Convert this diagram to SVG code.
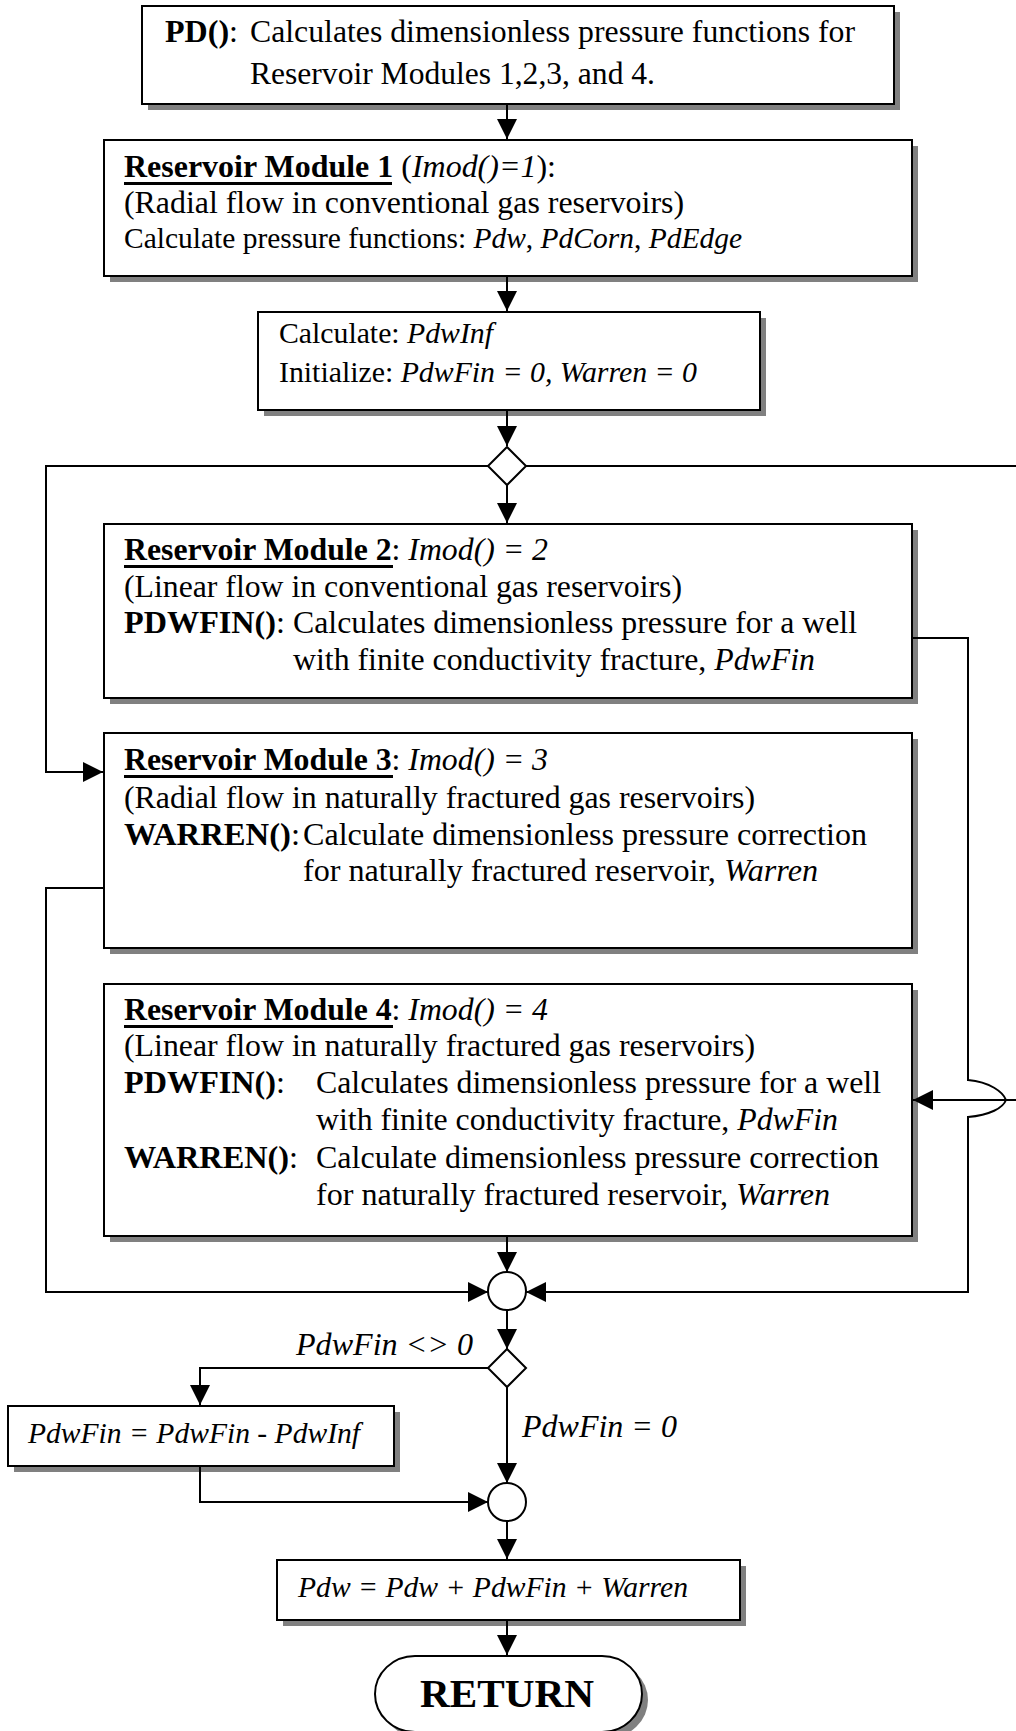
<svg xmlns="http://www.w3.org/2000/svg" width="1016" height="1731" viewBox="0 0 1016 1731">
<defs>
<style>
.box{fill:#fff;stroke:#000;stroke-width:2}
.sh{fill:#808080}
.t{font-family:"Liberation Serif","Times New Roman",serif;font-size:31.5px;fill:#000}
.s{font-size:29.5px}
.b{font-weight:bold}
.i{font-style:italic}
.ul{fill:#000}
.ln{fill:none;stroke:#000;stroke-width:2;marker-end:url(#ah)}
.nd{fill:#fff;stroke:#000;stroke-width:2}
</style>
<marker id="ah" markerUnits="userSpaceOnUse" markerWidth="20" markerHeight="20" refX="20" refY="10" orient="auto">
<path d="M0,0 L20,10 L0,20 Z" fill="#000"/>
</marker>
</defs>
<rect width="1016" height="1731" fill="#fff"/>

<g id="pd">
<rect class="sh" x="148" y="12" width="752" height="98"/>
<rect class="box" x="142" y="6" width="752" height="98"/>
<text class="t" x="165" y="42" textLength="73" lengthAdjust="spacingAndGlyphs"><tspan class="b">PD()</tspan>:</text>
<text class="t" x="250" y="42" textLength="605" lengthAdjust="spacingAndGlyphs">Calculates dimensionless pressure functions for</text>
<text class="t" x="250" y="84" textLength="405" lengthAdjust="spacingAndGlyphs">Reservoir Modules 1,2,3, and 4.</text>
</g>

<g id="module1">
<rect class="sh" x="110" y="146" width="808" height="136"/>
<rect class="box" x="104" y="140" width="808" height="136"/>
<text class="t" x="124" y="177" textLength="432" lengthAdjust="spacingAndGlyphs"><tspan class="b">Reservoir Module 1</tspan> (<tspan class="i">Imod()=1</tspan>):</text>
<rect class="ul" x="124" y="182" width="268" height="3"/>
<text class="t" x="124" y="213" textLength="560" lengthAdjust="spacingAndGlyphs">(Radial flow in conventional gas reservoirs)</text>
<text class="t s" x="124" y="248" textLength="618" lengthAdjust="spacingAndGlyphs">Calculate pressure functions: <tspan class="i">Pdw</tspan>, <tspan class="i">PdCorn</tspan>, <tspan class="i">PdEdge</tspan></text>
</g>

<g id="calc">
<rect class="sh" x="264" y="318" width="502" height="98"/>
<rect class="box" x="258" y="312" width="502" height="98"/>
<text class="t s" x="279" y="343" textLength="214" lengthAdjust="spacingAndGlyphs">Calculate: <tspan class="i">PdwInf</tspan></text>
<text class="t s" x="279" y="382" textLength="418" lengthAdjust="spacingAndGlyphs">Initialize: <tspan class="i">PdwFin = 0, Warren = 0</tspan></text>
</g>

<g id="decision1">
<polygon class="nd" points="507,447 526,466 507,485 488,466"/>
</g>

<g id="module2">
<rect class="sh" x="110" y="530" width="808" height="174"/>
<rect class="box" x="104" y="524" width="808" height="174"/>
<text class="t" x="124" y="560" textLength="424" lengthAdjust="spacingAndGlyphs"><tspan class="b">Reservoir Module 2</tspan>: <tspan class="i">Imod() = 2</tspan></text>
<rect class="ul" x="124" y="565" width="269" height="3"/>
<text class="t" x="124" y="597" textLength="558" lengthAdjust="spacingAndGlyphs">(Linear flow in conventional gas reservoirs)</text>
<text class="t" x="124" y="633" textLength="161" lengthAdjust="spacingAndGlyphs"><tspan class="b">PDWFIN()</tspan>:</text>
<text class="t" x="293" y="633" textLength="564" lengthAdjust="spacingAndGlyphs">Calculates dimensionless pressure for a well</text>
<text class="t" x="293" y="670" textLength="522" lengthAdjust="spacingAndGlyphs">with finite conductivity fracture, <tspan class="i">PdwFin</tspan></text>
</g>

<g id="module3">
<rect class="sh" x="110" y="739" width="808" height="215"/>
<rect class="box" x="104" y="733" width="808" height="215"/>
<text class="t" x="124" y="770" textLength="424" lengthAdjust="spacingAndGlyphs"><tspan class="b">Reservoir Module 3</tspan>: <tspan class="i">Imod() = 3</tspan></text>
<rect class="ul" x="124" y="775" width="269" height="3"/>
<text class="t" x="124" y="808" textLength="631" lengthAdjust="spacingAndGlyphs">(Radial flow in naturally fractured gas reservoirs)</text>
<text class="t" x="124" y="845" textLength="176" lengthAdjust="spacingAndGlyphs"><tspan class="b">WARREN()</tspan>:</text>
<text class="t" x="303" y="845" textLength="564" lengthAdjust="spacingAndGlyphs">Calculate dimensionless pressure correction</text>
<text class="t" x="303" y="881" textLength="515" lengthAdjust="spacingAndGlyphs">for naturally fractured reservoir, <tspan class="i">Warren</tspan></text>
</g>

<g id="module4">
<rect class="sh" x="110" y="990" width="808" height="252"/>
<rect class="box" x="104" y="984" width="808" height="252"/>
<text class="t" x="124" y="1020" textLength="424" lengthAdjust="spacingAndGlyphs"><tspan class="b">Reservoir Module 4</tspan>: <tspan class="i">Imod() = 4</tspan></text>
<rect class="ul" x="124" y="1025" width="269" height="3"/>
<text class="t" x="124" y="1056" textLength="631" lengthAdjust="spacingAndGlyphs">(Linear flow in naturally fractured gas reservoirs)</text>
<text class="t" x="124" y="1093" textLength="161" lengthAdjust="spacingAndGlyphs"><tspan class="b">PDWFIN()</tspan>:</text>
<text class="t" x="316" y="1093" textLength="565" lengthAdjust="spacingAndGlyphs">Calculates dimensionless pressure for a well</text>
<text class="t" x="316" y="1130" textLength="522" lengthAdjust="spacingAndGlyphs">with finite conductivity fracture, <tspan class="i">PdwFin</tspan></text>
<text class="t" x="124" y="1168" textLength="174" lengthAdjust="spacingAndGlyphs"><tspan class="b">WARREN()</tspan>:</text>
<text class="t" x="316" y="1168" textLength="563" lengthAdjust="spacingAndGlyphs">Calculate dimensionless pressure correction</text>
<text class="t" x="316" y="1205" textLength="514" lengthAdjust="spacingAndGlyphs">for naturally fractured reservoir, <tspan class="i">Warren</tspan></text>
</g>

<g id="junction1">
<circle class="nd" cx="507" cy="1291" r="19"/>
</g>

<g id="decision2">
<polygon class="nd" points="507,1349 526,1368 507,1387 488,1368"/>
</g>

<g id="subtract">
<rect class="sh" x="14" y="1412" width="386" height="60"/>
<rect class="box" x="8" y="1406" width="386" height="60"/>
<text class="t s i" x="28" y="1443" textLength="332" lengthAdjust="spacingAndGlyphs">PdwFin = PdwFin - PdwInf</text>
</g>

<g id="junction2">
<circle class="nd" cx="507" cy="1502" r="19"/>
</g>

<g id="sum">
<rect class="sh" x="283" y="1566" width="463" height="60"/>
<rect class="box" x="277" y="1560" width="463" height="60"/>
<text class="t s i" x="298" y="1597" textLength="390" lengthAdjust="spacingAndGlyphs">Pdw = Pdw + PdwFin + Warren</text>
</g>

<g id="return">
<path class="sh" d="M421,1662 H608 A40,38 0 0 1 608,1738 H421 A40,38 0 0 1 421,1662 Z"/>
<path class="nd" d="M415,1656 H602 A40,38 0 0 1 602,1732 H415 A40,38 0 0 1 415,1656 Z"/>
<text class="t b" x="420" y="1707" style="font-size:40px" textLength="174" lengthAdjust="spacingAndGlyphs">RETURN</text>
</g>

<g id="connectors">
<path class="ln" d="M507,105 V139"/>
<path class="ln" d="M507,277 V311"/>
<path class="ln" d="M507,411 V446"/>
<path class="ln" d="M507,485 V523"/>
<path class="ln" d="M488,466 H46 V772 H103"/>
<path class="ln" d="M526,466 H1022 V1100 H913"/>
<path class="ln" d="M913,638 H968 V1080 C990,1082 1003,1092 1006,1100 C1003,1108 990,1115 968,1117 V1292 H526"/>
<path class="ln" d="M104,888 H46 V1292 H488"/>
<path class="ln" d="M507,1237 V1272"/>
<path class="ln" d="M507,1310 V1349"/>
<path class="ln" d="M488,1368 H200 V1405"/>
<path class="ln" d="M507,1387 V1483"/>
<path class="ln" d="M200,1467 V1502 H488"/>
<path class="ln" d="M507,1521 V1559"/>
<path class="ln" d="M507,1621 V1655"/>
<text class="t i" x="296" y="1355" textLength="177" lengthAdjust="spacingAndGlyphs">PdwFin &lt;&gt; 0</text>
<text class="t i" x="522" y="1437" textLength="155" lengthAdjust="spacingAndGlyphs">PdwFin = 0</text>
</g>
</svg>
